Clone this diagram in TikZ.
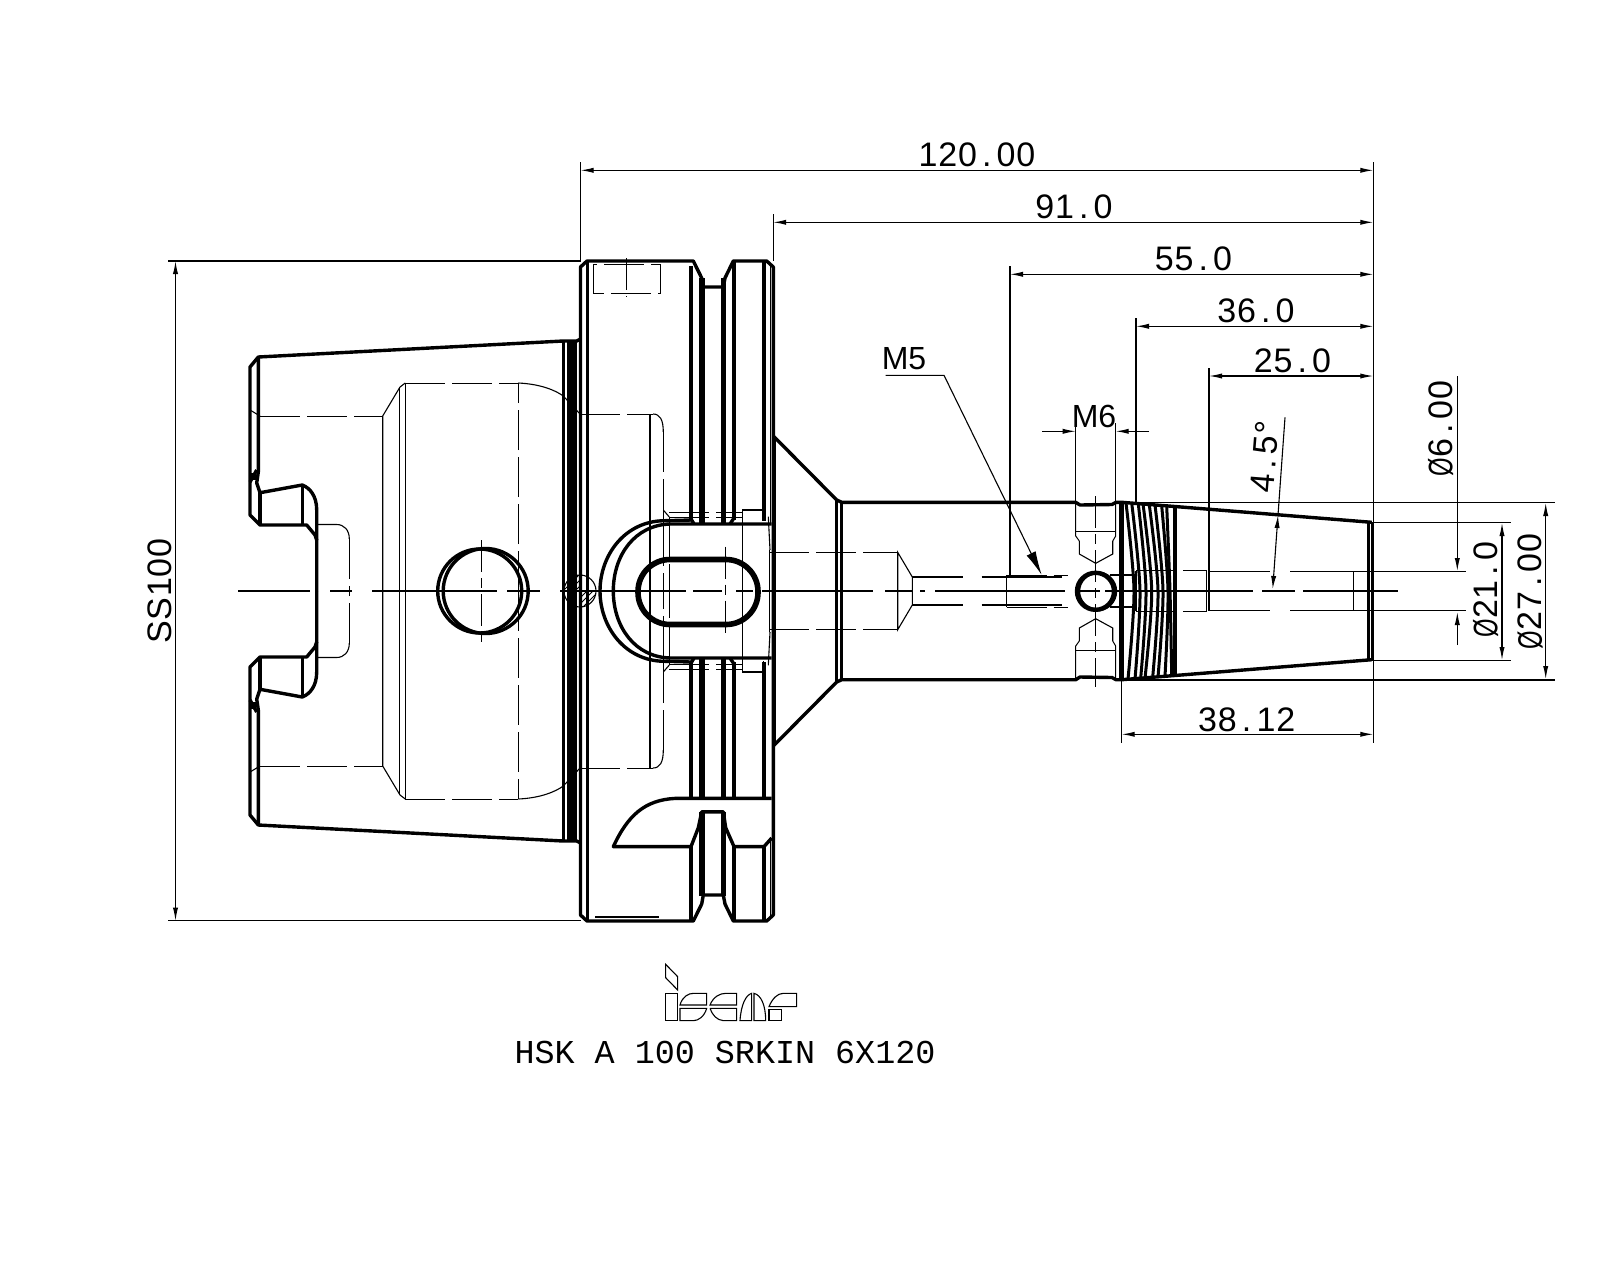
\documentclass[tikz,border=0pt]{standalone}
\usepackage{fontspec}
\usetikzlibrary{arrows.meta,patterns}
\newfontfamily\cadfont[LetterSpace=2.4]{Liberation Sans}
\newfontfamily\cadsans{Liberation Sans}
\newfontfamily\cadmono{Liberation Mono}
\newcommand{\cadpt}{\makebox[9.85pt]{.}}
\newcommand{\caddia}{\makebox[9.85pt]{\scalebox{.7}[1]{Ø}}}
\tikzset{
  thinline/.style={line width=0.55pt},
  thickline/.style={line width=1.7pt,line join=round},
  fatline/.style={line width=2.8pt},
  hiddenline/.style={line width=0.5pt,dash pattern=on 20pt off 3.5pt},
  crossline/.style={line width=0.5pt,dash pattern=on 16pt off 3pt on 5pt off 3pt},
  dimline/.style={thinline,<->,>={Latex[length=6.5pt,width=2.6pt]}},
  leadline/.style={thinline,->,>={Latex[length=6.5pt,width=2.6pt]}},
  dimtext/.style={font=\cadfont\fontsize{17}{18}\selectfont,inner sep=0pt},
  sanstext/.style={font=\cadsans\fontsize{16}{18}\selectfont,inner sep=0pt},
  titletext/.style={font=\cadmono\fontsize{16.7}{18}\selectfont,inner sep=0pt},
}
\begin{document}
\begin{tikzpicture}[x=0.5pt,y=-0.5pt]
    \useasboundingbox (0,0) rectangle (1600,1280);

    % small hatched hole
    \begin{scope}
        \clip (564,575) rectangle (580,591);
        \fill[pattern=north east lines] (580,591) circle (16);
    \end{scope}
    \begin{scope}
        \clip (580,591) rectangle (596,607);
        \fill[pattern=north east lines] (580,591) circle (16);
    \end{scope}
    \draw[thinline] (580,591) circle (16);

    % everything that repeats about the axis
    \foreach \s/\o in {1/0,-1/1182} {
    \begin{scope}[shift={(0,\o)},yscale=\s]
        \draw[thickline] (316.7,591) -- (316.7,540) -- (315,535) -- (306.7,525) -- (260,525) -- (250,515) -- (250,367) -- (258.3,357) -- (563.3,341) -- (576.7,341) -- (580.5,339);
        \draw[thickline] (258.3,357) -- (258.3,472) -- (256.7,483) -- (260,492.7) -- (302.3,485) .. controls (310,488) and (316.7,496) .. (316.7,510) -- (316.7,540);
        \draw[thickline] (260,492.7) -- (260,525);
        \draw[thickline] (302.3,485) -- (302.3,525);
        \draw[thickline] (250,482) -- (256.7,470);
        \fill (251,473) rectangle (256,480);

        \draw[thinline] (250,410) -- (260,416);
        \draw[hiddenline] (260,416) -- (382.7,416);
        \draw[thinline] (382.7,591) -- (382.7,416) -- (400,387) -- (405.3,383);
        \draw[thinline] (399.3,591) -- (399.3,387);
        \draw[thinline] (405.3,591) -- (405.3,383);
        \draw[hiddenline] (405.3,383) -- (518.3,383);
        \draw[hiddenline] (518.3,591) -- (518.3,383);
        \draw[thinline] (518.3,383) .. controls (540,384) and (555,390) .. (563.3,396) -- (580,414);
        \draw[hiddenline] (580,414) -- (653,414);
        \draw[thinline] (653,414) .. controls (660,414) and (663.3,420) .. (663.3,432);
        \draw[hiddenline] (663.3,432) -- (663.3,591);
        \draw[thinline] (316.7,524.5) -- (336.7,524.5) .. controls (344,524.5) and (349.3,530) .. (349.3,538.8);
        \draw[hiddenline] (349.3,538.8) -- (349.3,591);

        \draw[thickline] (580.5,591) -- (580.5,267) -- (587,261) -- (693.3,261) -- (701.7,278) -- (703.3,287) -- (723.3,287) -- (725,278) -- (733.3,261) -- (766.7,261) -- (773.3,267) -- (773.3,591);
        \draw[thickline] (587.5,261) -- (587.5,591);

        \draw[thickline] (691,520) -- (665,520.7) .. controls (625,520.7) and (600,555) .. (600,591);
        \draw[thickline] (771.7,524) -- (670,524) .. controls (635,525) and (613.3,555) .. (613.3,591);
        \draw[thickline] (690.5,518) -- (694,524);
        \draw[thickline] (734,518) -- (730,524);
        \draw[thinline] (663.3,510) -- (669.3,517);
        \draw[hiddenline] (669.3,512.3) -- (742,512.3);
        \draw[hiddenline] (669.3,517.3) -- (742,517.3);
        \draw[hiddenline] (669.3,517.3) -- (669.3,591);
        \draw[thinline] (663.3,510) -- (663.3,540);
        \draw[thinline] (742.3,591) -- (742.3,510) -- (763.3,510) -- (763.3,521);
        \draw[thinline] (768.3,516.7) -- (770,550);
        \draw[hiddenline] (769.5,550) -- (769.5,591);

        \draw[thickline] (773.3,436) -- (836.7,500) -- (841.7,502.3) -- (1075.7,502.3) -- (1080,505) -- (1112,504.5) -- (1116,502.3) -- (1121.7,502.3) -- (1177.3,506.7) -- (1371.7,522.3);
        \draw[thickline] (836.7,500) -- (836.7,591);
        \draw[thickline] (841.7,502.3) -- (841.7,591);

        \draw[hiddenline] (769,552.3) -- (897.7,552.3);
        \draw[thinline] (897.7,591) -- (897.7,552.3) -- (912.3,577) -- (912.3,591);
        \draw[thinline] (912.3,577) -- (963,577);
        \draw[thinline] (981.7,577) -- (1061.7,577);
        \draw[hiddenline] (1006.7,575) -- (1068,575);
        \draw[thinline] (1006.7,575) -- (1006.7,591);
        \draw[thinline] (1110,575) -- (1135,575) -- (1135,591);

        \draw[hiddenline] (1075.7,503) -- (1075.7,536) -- (1079.3,541);
        \draw[hiddenline] (1115.7,503) -- (1115.7,536) -- (1112.7,541);
        \draw[thinline] (1079.3,541) -- (1079.3,554) -- (1095.7,563.3) -- (1112.7,554) -- (1112.7,541);
        \draw[hiddenline] (1075.7,531.7) -- (1115.7,531.7);

        \draw[hiddenline] (1136,570.7) -- (1206.7,570.7);
        \draw[thinline] (1136,570.7) -- (1136,591);
        \draw[thinline] (1206.7,570.7) -- (1206.7,591);
        \draw[thinline] (1209,571.5) -- (1209,591);
        \draw[thinline] (1209,571.5) -- (1270,571.5);
        \draw[thinline] (1353.3,571.5) -- (1353.3,591);
    \end{scope}
    }

    % thread turns
    \foreach \t/\a/\m/\b in {503/1126/1134/1128,503/1131.7/1140/1135,504/1138.3/1146/1140.7,504/1143/1151.7/1145,505/1149.3/1158/1152.7,505/1155/1163/1158,506/1161.7/1168/1165,506/1166.7/1170/1171.7}
        \draw[thickline,line width=1.5pt] plot[smooth] coordinates {(\a,\t) (\m,591) ({\b},{1182-\t})};

    % upper half of the flange
    \draw[thickline] (691,266) -- (691,520);
    \draw[thickline] (734,261) -- (734,520);
    \draw[thickline] (764,261) -- (764,521);
    \draw[thinline] (770.7,264) -- (770.7,524);
    \fill (698.5,278) rectangle (705,524);
    \fill (720.5,278) rectangle (726,524);

    % lower half of the flange with the key slot
    \draw[thickline] (691,662) -- (691,798);
    \draw[thickline] (734,662) -- (734,798);
    \draw[thickline] (764,662) -- (764,798);
    \fill (698.5,658) rectangle (705,798);
    \fill (720.5,658) rectangle (726,798);
    \draw[thickline] (771.7,798.4) -- (675,798.4) .. controls (645,800) and (628,815) .. (613.3,846.6) -- (691,846.6) -- (698.3,827.8) -- (701.7,811.8) -- (723.3,811.8) -- (725.7,827.8) -- (734,846.6) -- (764,846.6) -- (771.7,838);
    \draw[thickline] (691,846.6) -- (691,921);
    \draw[thickline] (734,846.6) -- (734,921);
    \draw[thickline] (764,846.6) -- (764,921);
    \draw[thinline] (770.7,838) -- (770.7,916);
    \fill (698.5,812) rectangle (705,896);
    \fill (720.5,812) rectangle (726,896);

    \draw[line width=2pt] (773.7,436) -- (773.7,746);
    \draw[thinline] (650,414) -- (650,768);

    % shank rings and the two holes
    \draw[thickline] (563.5,341) -- (563.5,841);
    \draw[thickline] (568.3,341) -- (568.3,841);
    \fill (568,341) rectangle (576.5,841);
    \draw[thickline] (479.7,591) circle (42);
    \draw[thickline] (485.7,591) circle (42.5);
    \draw[fatline,rounded corners=16pt] (638,559.5) rectangle (758,624.5);

    % screw seat on top
    \draw[hiddenline] (593.3,264.5) -- (593.3,293.5) -- (660,293.5) -- (660,264.5) -- cycle;
    \draw[crossline] (626.7,258) -- (626.7,297);
    \draw[line width=1pt] (595,917) -- (659,917);

    % thread and nose
    \draw[line width=2.4pt] (1121.7,502.3) -- (1121.7,680);
    \draw[line width=2.4pt] (1175,506.7) -- (1175,675.3);
    \draw[thickline] (1368.3,522) -- (1368.3,660);
    \draw[thickline] (1372.7,522.3) -- (1372.7,659.7);
    \draw[line width=2.2pt] (1095.5,591.3) circle (18.5);
    \draw[thickline] (1097,591.3) circle (18.5);

    % centre lines
    \foreach \xa/\xb in {238/310,330/352,372/497,507/540,560/686,693/722,736/753,762/873,885/912,920/925,935/1065,1075/1100,1105/1253,1262/1295,1303/1398}
        \draw[thinline] (\xa,591) -- (\xb,591);
    \draw[crossline] (481.7,540) -- (481.7,644);
    \draw[crossline] (725.3,546.7) -- (725.3,636.7);
    \draw[crossline] (1095.7,496) -- (1095.7,686.7);

    % dimension points
    \coordinate (ssTop) at (175.5,261);
    \coordinate (ssBot) at (175.5,920.6);
    \coordinate (ssTopL) at (168,261);
    \coordinate (ssTopR) at (581,261);
    \coordinate (ssBotL) at (168,920.6);
    \coordinate (ssBotR) at (581,920.6);
    \coordinate (lenL) at (580.6,170.3);
    \coordinate (lenR) at (1373.3,170.3);
    \coordinate (lenLa) at (580.6,162);
    \coordinate (lenLb) at (580.6,261);
    \coordinate (endTop) at (1373.3,162);
    \coordinate (endBot) at (1373.3,743);
    \coordinate (flgL) at (773.2,222.3);
    \coordinate (flgR) at (1373.3,222.3);
    \coordinate (flgLa) at (773.2,214);
    \coordinate (flgLb) at (773.2,261);
    \coordinate (m5L) at (1010,274.3);
    \coordinate (m5R) at (1373.3,274.3);
    \coordinate (m5La) at (1010,266);
    \coordinate (m5Lb) at (1010,575);
    \coordinate (thrL) at (1136,326.3);
    \coordinate (thrR) at (1373.3,326.3);
    \coordinate (thrLa) at (1136,318);
    \coordinate (thrLb) at (1136,502);
    \coordinate (boreL) at (1209,376);
    \coordinate (boreR) at (1373.3,376);
    \coordinate (boreLa) at (1209,368);
    \coordinate (boreLb) at (1209,572.3);
    \coordinate (taperL) at (1121.7,734.3);
    \coordinate (taperR) at (1373.3,734.3);
    \coordinate (taperLa) at (1121.7,680);
    \coordinate (taperLb) at (1121.7,743);
    \coordinate (m6La) at (1075.7,423);
    \coordinate (m6Lb) at (1075.7,502);
    \coordinate (m6Ra) at (1115.7,423);
    \coordinate (m6Rb) at (1115.7,502);
    \coordinate (m6Lo) at (1042.3,431.3);
    \coordinate (m6Li) at (1075.7,431.3);
    \coordinate (m6Ro) at (1149,431.3);
    \coordinate (m6Ri) at (1115.7,431.3);
    \coordinate (m5Ua) at (885.5,375.3);
    \coordinate (m5Ub) at (944,375.3);
    \coordinate (m5Tip) at (1041.7,575);
    \coordinate (angA) at (1272.7,589);
    \coordinate (angB) at (1278,515);
    \coordinate (angC) at (1285,417.3);
    \coordinate (d6Top) at (1457.3,376);
    \coordinate (d6TipA) at (1457.3,571);
    \coordinate (d6Bot) at (1457.3,645);
    \coordinate (d6TipB) at (1457.3,612);
    \coordinate (d6ExtA) at (1290,571.5);
    \coordinate (d6ExtB) at (1466,571.5);
    \coordinate (d6ExtC) at (1290,610.5);
    \coordinate (d6ExtD) at (1466,610.5);
    \coordinate (d21Top) at (1502,523);
    \coordinate (d21Bot) at (1502,660);
    \coordinate (d21ExtA) at (1372,522.3);
    \coordinate (d21ExtB) at (1510.7,522.3);
    \coordinate (d21ExtC) at (1372,660.7);
    \coordinate (d21ExtD) at (1510.7,660.7);
    \coordinate (d27Top) at (1545.7,503);
    \coordinate (d27Bot) at (1545.7,679);
    \coordinate (d27ExtA) at (1122,502.3);
    \coordinate (d27ExtB) at (1555,502.3);
    \coordinate (d27ExtC) at (1122,680);
    \coordinate (d27ExtD) at (1555,680);

    \draw[thinline] (ssTopL) -- (ssTopR);
    \draw[thinline] (ssBotL) -- (ssBotR);
    \draw[dimline] (ssTop) -- (ssBot);
    \draw[dimline] (lenL) -- (lenR);
    \draw[thinline] (lenLa) -- (lenLb);
    \draw[thinline] (endTop) -- (endBot);
    \draw[dimline] (flgL) -- (flgR);
    \draw[thinline] (flgLa) -- (flgLb);
    \draw[dimline] (m5L) -- (m5R);
    \draw[thinline] (m5La) -- (m5Lb);
    \draw[dimline] (thrL) -- (thrR);
    \draw[thinline] (thrLa) -- (thrLb);
    \draw[dimline] (boreL) -- (boreR);
    \draw[thinline] (boreLa) -- (boreLb);
    \draw[dimline] (taperL) -- (taperR);
    \draw[thinline] (taperLa) -- (taperLb);

    \draw[thinline] (m6La) -- (m6Lb);
    \draw[thinline] (m6Ra) -- (m6Rb);
    \draw[leadline] (m6Lo) -- (m6Li);
    \draw[leadline] (m6Ro) -- (m6Ri);

    \draw[thinline,-{Latex[length=12pt,width=5pt]}] (m5Ua) -- (m5Ub) -- (m5Tip);

    \draw[dimline] (angA) -- (angB);
    \draw[thinline] (angB) -- (angC);

    \draw[leadline] (d6Top) -- (d6TipA);
    \draw[leadline] (d6Bot) -- (d6TipB);
    \draw[thinline] (d6ExtA) -- (d6ExtB);
    \draw[thinline] (d6ExtC) -- (d6ExtD);
    \draw[dimline] (d21Top) -- (d21Bot);
    \draw[thinline] (d21ExtA) -- (d21ExtB);
    \draw[thinline] (d21ExtC) -- (d21ExtD);
    \draw[dimline] (d27Top) -- (d27Bot);
    \draw[thinline] (d27ExtA) -- (d27ExtB);
    \draw[thinline] (d27ExtC) -- (d27ExtD);

    % texts
    \node[dimtext] (lblLen) at (977,154.5) {120\cadpt 00};
    \node[dimtext] (lblFlange) at (1074,206.5) {91\cadpt 0};
    \node[dimtext] (lblHole) at (1193.5,258.5) {55\cadpt 0};
    \node[dimtext] (lblThread) at (1256,310.5) {36\cadpt 0};
    \node[dimtext] (lblBore) at (1292.5,361) {25\cadpt 0};
    \node[dimtext] (lblTaper) at (1246.7,719.5) {38\cadpt 12};
    \node[dimtext,rotate=90] (lblSS) at (160,591) {SS100};
    \node[dimtext,rotate=85.5] (lblAngle) at (1265,456.7) {4\cadpt 5°};
    \node[dimtext,rotate=90] (lblD6) at (1440.7,429) {\caddia 6\cadpt 00};
    \node[dimtext,rotate=90] (lblD21) at (1485.7,590) {\caddia 21\cadpt 0};
    \node[dimtext,rotate=90] (lblD27) at (1530,591.7) {\caddia 27\cadpt 00};
    \node[sanstext] (lblM5) at (904,358.5) {M5};
    \node[sanstext] (lblM6) at (1094,416) {M6};
    \node[titletext] (lblTitle) at (725,1052.3) {HSK A 100 SRKIN 6X120};

    % logo
    \begin{scope}[shift={(655,955)},scale=1/3,thinline]
        \draw (32,28) -- (68,65) -- (68,105) -- (32,68) -- cycle;
        \draw (32,115) rectangle (68,197);
        \draw (75,150) .. controls (82,125) and (100,115) .. (115,115) -- (155,115) -- (155,150) -- cycle;
        \draw (75,160) -- (155,160) .. controls (148,185) and (130,197) .. (115,197) -- (75,197) -- cycle;
        \draw (165,150) .. controls (175,125) and (195,115) .. (212,115) -- (245,115) -- (245,150) -- cycle;
        \draw (165,160) -- (245,160) -- (245,197) -- (205,197) .. controls (185,195) and (172,180) .. (165,160);
        \draw (255,197) .. controls (258,150) and (272,120) .. (290,115) -- (290,197) -- cycle;
        \draw (297,115) .. controls (318,120) and (332,150) .. (332,197) -- (297,197) -- cycle;
        \draw (342,163) rectangle (380,197);
        \draw (342,155) .. controls (352,130) and (368,115) .. (385,115) -- (425,115) -- (425,155) -- cycle;
    \end{scope}
\end{tikzpicture}
\end{document}
